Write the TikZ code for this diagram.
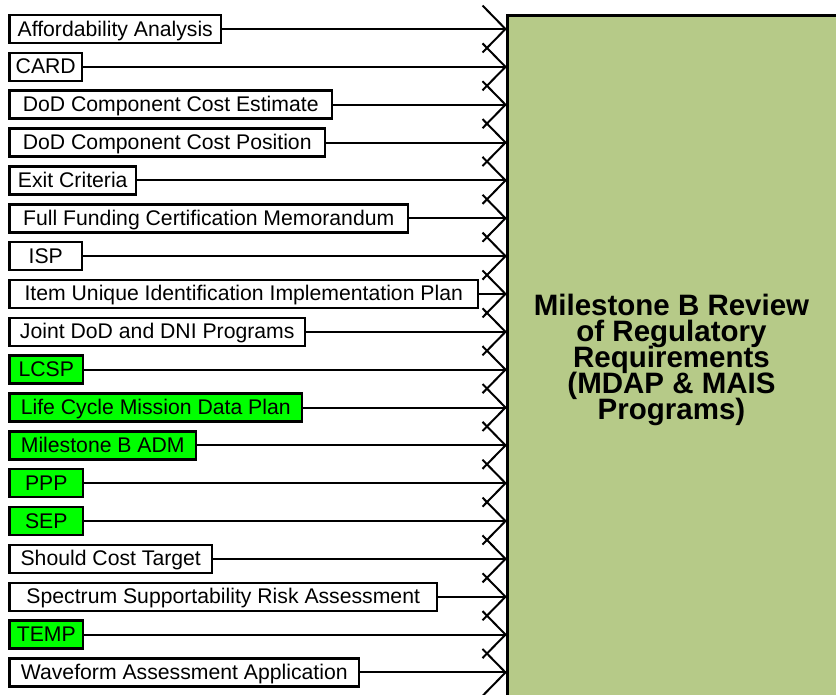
\documentclass[tikz,border=0pt]{standalone}
\usepackage{fontspec}
\setmainfont{Liberation Sans}
\pgfdeclarelayer{bg}
\pgfsetlayers{bg,main}
\definecolor{boxgreen}{RGB}{0,255,0}
\definecolor{olivefill}{RGB}{182,202,136}
\newcommand\mybigfont{\bfseries\fontsize{29.5}{26}\selectfont\lineskiplimit=-50pt\relax\lineskip=0pt\relax}
\begin{document}
\begin{tikzpicture}[x=1pt,y=-1pt,
  item/.style={draw=black, line width=2.5pt, anchor=west, inner sep=0pt, minimum height=28pt, text height=14pt, text depth=0pt, font=\fontsize{21.2}{25}\selectfont},
  conn/.style={draw=black, line width=2pt},
  barb/.style={draw=black, line width=2pt},
  bigbox/.style={draw=black, line width=3pt, fill=olivefill, anchor=north west, inner sep=0pt},
  bigtext/.style={align=center, inner sep=0pt, font=\mybigfont}]
\useasboundingbox (0,0) rectangle (836,694);
\clip (0,0) rectangle (836,694);
\node[bigbox, minimum width=340pt, minimum height=700pt] (big) at (505.5,14) {};
\node[bigtext] (bigt) at (671.5,359.5) {Milestone B Review\\of Regulatory\\Requirements\\(MDAP \& MAIS\\Programs)};
\foreach \i/\r/\c/\t in {
  0/221/white/Affordability Analysis,
  1/82/white/CARD,
  2/332/white/DoD Component Cost Estimate,
  3/325/white/DoD Component Cost Position,
  4/136/white/Exit Criteria,
  5/408/white/Full Funding Certification Memorandum,
  6/82/white/ISP,
  7/478/white/Item Unique Identification Implementation Plan,
  8/305/white/Joint DoD and DNI Programs,
  9/83/boxgreen/LCSP,
  10/302/boxgreen/Life Cycle Mission Data Plan,
  11/196/boxgreen/Milestone B ADM,
  12/83/boxgreen/PPP,
  13/83/boxgreen/SEP,
  14/212/white/Should Cost Target,
  15/437/white/Spectrum Supportability Risk Assessment,
  16/83/boxgreen/TEMP,
  17/359/white/Waveform Assessment Application}{
  \pgfmathsetmacro{\yy}{29+37.85*\i}
  \pgfmathsetmacro{\ww}{\r-9.5}
  \node[item, fill=\c, minimum width=\ww pt] (b\i) at (8.25,\yy) {\t};
  \coordinate (t\i) at (b\i.east -| big.west);
  \begin{pgfonlayer}{bg}
    \draw[conn] (b\i.east) -- (t\i);
    \draw[barb] (t\i) ++(-23,-23.5) -- (t\i) -- ++(-23,23.5);
  \end{pgfonlayer}
}
\end{tikzpicture}
\end{document}
